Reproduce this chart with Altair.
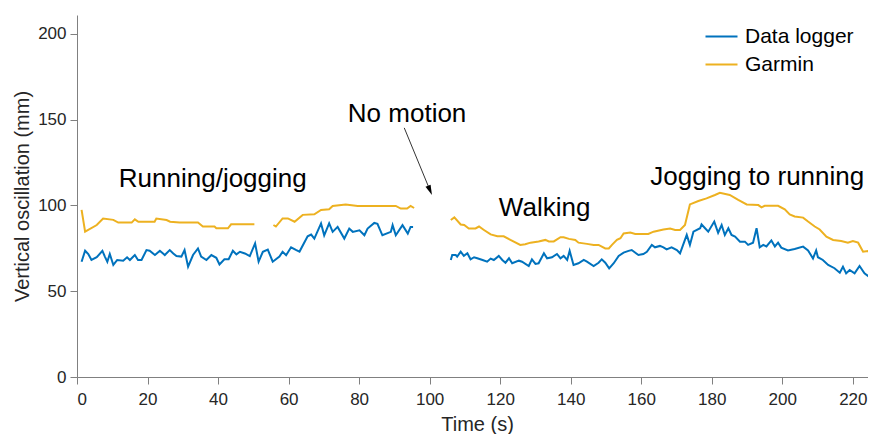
import altair as alt
import pandas as pd

# ---------------- data ----------------
series_names = ["Data logger", "Garmin"]
series_colors = ["#0072BD", "#EDB120"]

# Data logger, part 1 (0-96 s)
logger_t1 = [1.3, 2.3, 3.2, 4.1, 5.6, 7.2, 7.9, 8.6, 9.3, 10.3, 11.4, 13.1, 14.2, 15.0, 16.4,
             17.3, 18.3, 19.7, 20.6, 22.1, 23.5, 24.9, 26.3, 27.3, 28.2, 29.6, 30.5, 31.5, 32.9,
             34.3, 35.2, 36.7, 38.1, 39.5, 40.4, 41.8, 43.0, 44.2, 45.2, 46.2, 47.6, 49.0, 50.5,
             51.5, 52.7, 54.1, 55.5, 57.4, 58.3, 59.3, 60.7, 62.2, 63.1, 65.4, 66.4, 67.3, 69.2,
             70.1, 71.5, 72.5, 73.9, 75.8, 77.2, 78.2, 80.1, 81.5, 82.4, 84.3, 85.2, 86.6, 89.0,
             89.5, 90.4, 92.3, 93.8, 94.6, 95.3]
logger_v1 = [67.2, 73.6, 71.7, 68.2, 69.8, 73.5, 70.2, 67.2, 71.7, 65.3, 68.2, 67.8, 69.8, 68.2, 71.1,
             68.2, 68.2, 74.0, 73.6, 71.1, 73.6, 71.1, 74.0, 72.0, 70.5, 70.2, 74.0, 64.3, 71.1,
             74.9, 70.2, 68.2, 71.1, 69.5, 65.6, 68.6, 68.6, 73.6, 71.5, 73.0, 72.0, 70.5, 77.9,
             67.2, 73.0, 74.3, 67.2, 70.2, 73.0, 71.0, 75.6, 74.0, 73.1, 82.0, 83.0, 80.7, 89.5,
             82.6, 89.5, 84.6, 87.5, 80.7, 86.5, 84.6, 85.5, 82.6, 86.5, 89.8, 89.3, 82.6, 84.6,
             88.5, 82.6, 88.5, 83.6, 87.5, 87.5]

# Data logger, part 2 (106-226 s)
logger_t2 = [106.0, 106.4, 107.4, 107.8, 108.8, 109.7, 110.7, 111.6, 112.6, 113.5, 115.0, 116.3,
             117.3, 118.2, 119.6, 120.6, 121.5, 122.5, 123.4, 125.3, 126.2, 128.1, 129.0, 130.0,
             130.9, 132.4, 133.3, 134.7, 136.1, 137.1, 138.0, 139.0, 139.7, 140.8, 142.2, 143.7,
             144.6, 146.5, 147.9, 148.8, 149.8, 150.9, 152.2, 153.6, 155.0, 156.4, 157.3, 159.2,
             160.6, 161.6, 163.0, 163.9, 165.3, 166.3, 167.2, 168.6, 170.1, 171.0, 172.9, 173.8,
             174.8, 176.7, 177.1, 178.1, 179.0, 180.7, 181.8, 182.8, 183.7, 184.7, 185.6, 186.6,
             188.0, 189.4, 190.3, 191.7, 192.7, 193.6, 194.6, 195.5, 196.9, 197.9, 198.8, 199.7,
             201.6, 203.5, 205.9, 207.3, 208.7, 209.6, 210.1, 211.5, 213.0, 214.8, 216.3, 217.2,
             218.1, 219.1, 220.5, 221.9, 223.3, 224.3, 225.0, 226.0]
logger_v2 = [68.2, 71.1, 71.1, 70.2, 73.0, 70.6, 72.1, 68.6, 69.8, 69.2, 68.2, 67.2,
             69.0, 68.2, 70.6, 68.2, 66.6, 69.2, 66.3, 67.8, 67.2, 64.7, 68.6, 65.9,
             66.3, 72.1, 69.2, 69.8, 71.7, 69.2, 70.6, 68.2, 73.5, 65.3, 66.3, 68.2,
             67.2, 64.7, 66.6, 68.6, 66.6, 63.3, 66.3, 70.6, 72.5, 73.5, 74.0, 71.1,
             71.7, 73.0, 77.0, 75.6, 76.4, 75.6, 74.4, 75.6, 74.0, 72.1, 82.8, 77.0,
             84.7, 86.7, 89.0, 86.7, 84.7, 90.6, 84.1, 88.6, 82.8, 86.7, 82.8, 81.8,
             78.9, 78.9, 77.0, 78.3, 86.7, 75.6, 77.0, 76.1, 79.6, 76.1, 78.3, 75.4,
             73.8, 74.6, 76.0, 73.8, 69.1, 73.8, 69.8, 68.2, 65.3, 63.4, 60.8, 64.3,
             60.4, 62.4, 60.4, 64.7, 60.4, 58.9, 60.8, 55.6]

# Garmin, part 1 (0-50 s)
garmin_t1 = [1.3, 2.3, 5.6, 7.4, 10.3, 11.7, 15.5, 16.4, 17.4, 22.0, 22.5, 25.4, 26.4, 29.1,
             34.3, 35.7, 39.0, 39.5, 42.8, 43.7, 50.3]
garmin_v1 = [97.4, 84.7, 88.6, 92.4, 91.6, 90.0, 90.0, 91.9, 90.5, 90.5, 92.4, 91.5, 90.5, 90.0,
             90.0, 87.7, 87.7, 86.7, 86.7, 89.0, 89.0]

# Garmin, part 2 (55-96 s)
garmin_t2 = [55.7, 56.4, 58.3, 59.8, 61.7, 64.0, 67.3, 69.2, 71.5, 72.5, 76.2, 79.6, 90.4, 91.8,
             93.6, 94.6, 95.6]
garmin_v2 = [88.6, 87.7, 92.4, 92.4, 90.5, 94.5, 94.8, 97.4, 97.8, 99.7, 100.6, 99.7, 99.7, 98.2,
             98.2, 99.7, 98.5]

# Garmin, part 3 (106-226 s)
garmin_t3 = [106.0, 107.0, 108.8, 109.8, 111.1, 113.0, 114.0, 115.4, 117.3, 119.2, 121.0, 122.9,
             125.7, 127.1, 128.6, 130.9, 132.8, 133.8, 135.2, 137.1, 138.0, 139.5, 141.3, 142.2,
             144.6, 146.5, 147.9, 149.8, 150.8, 151.7, 153.1, 154.1, 155.0, 156.9, 158.3, 162.0,
             163.5, 166.3, 168.2, 169.6, 171.0, 172.4, 173.8, 176.2, 178.5, 180.9, 182.3, 185.1,
             187.5, 189.9, 193.2, 194.1, 195.0, 198.8, 200.7, 202.1, 203.5, 205.9, 207.3, 209.2,
             210.6, 212.5, 214.4, 216.7, 218.6, 220.0, 221.5, 222.9, 224.3, 225.8]
garmin_v3 = [91.5, 93.0, 88.9, 88.6, 86.6, 86.6, 87.7, 85.7, 83.1, 82.0, 82.0, 79.9,
             77.0, 77.4, 78.3, 79.0, 79.9, 79.0, 79.0, 81.5, 81.5, 80.5, 79.9, 78.3,
             77.6, 77.0, 77.0, 74.9, 74.9, 77.0, 79.9, 80.9, 83.7, 84.2, 83.4, 83.4,
             84.7, 86.0, 86.6, 85.7, 85.7, 88.6, 100.6, 102.6, 104.1, 106.1, 107.4, 106.1,
             103.2, 100.6, 100.2, 98.9, 99.8, 99.8, 97.7, 94.8, 93.6, 92.9, 90.6, 87.7,
             86.0, 81.8, 79.9, 79.3, 78.3, 79.3, 78.3, 73.0, 73.5, 70.1]

# annotations
ann_text = ["Running/jogging", "No motion", "Walking", "Jogging to running"]
ann_t = [38.5, 93.6, 132.6, 192.9]
ann_v = [115.5, 153.4, 98.5, 116.5]

# arrow (No motion -> gap)
arrow_t = [92.8]
arrow_v = [145.2]
arrow_t2 = [100.1]
arrow_v2 = [108.8]

x_ticks = [0, 20, 40, 60, 80, 100, 120, 140, 160, 180, 200, 220]
y_ticks = [0, 50, 100, 150, 200]

# ---------------- tables ----------------
rows = []
parts = [
    (logger_t1, logger_v1, series_names[0], "L1"),
    (logger_t2, logger_v2, series_names[0], "L2"),
    (garmin_t1, garmin_v1, series_names[1], "G1"),
    (garmin_t2, garmin_v2, series_names[1], "G2"),
    (garmin_t3, garmin_v3, series_names[1], "G3"),
]
for ts, vs, name, seg in parts:
    for t, v in zip(ts, vs):
        rows.append({"time": t, "value": v, "series": name, "seg": seg})
df = pd.DataFrame(rows)

ann_df = pd.DataFrame({"text": ann_text, "time": ann_t, "value": ann_v})
arrow_df = pd.DataFrame({"t": arrow_t, "v": arrow_v, "t2": arrow_t2, "v2": arrow_v2})

FONT = "Liberation Sans"

# the reference is cropped at the right edge; the page keeps 8px margin
x_scale = alt.Scale(domain=[0, 224.3], nice=False, zero=False)
y_scale = alt.Scale(domain=[0, 211], nice=False)

x_enc = alt.X("time:Q", scale=x_scale,
              axis=alt.Axis(values=x_ticks, title="Time (s)", format="d", labelPadding=7,
                            titleX=400, titleY=47, titleBaseline="middle", titleAlign="center"))
y_enc = alt.Y("value:Q", scale=y_scale,
              axis=alt.Axis(values=y_ticks, title="Vertical oscillation (mm)", format="d",
                            labelPadding=4, titleX=-55, titleY=181, titleAngle=270,
                            titleBaseline="middle", titleAlign="center"))

lines = alt.Chart(df).mark_line(strokeWidth=2, clip=True).encode(
    x=x_enc,
    y=y_enc,
    color=alt.Color(
        "series:N",
        scale=alt.Scale(domain=series_names, range=series_colors),
        legend=alt.Legend(
            title=None, orient="none", legendX=634, legendY=11,
            symbolType="M-2,0H2", symbolSize=256, symbolStrokeWidth=2,
            labelFontSize=21, labelFont=FONT, labelColor="#000000",
            labelOffset=13, rowPadding=6, padding=0,
        ),
    ),
    detail="seg:N",
)

texts = alt.Chart(ann_df).mark_text(
    font=FONT, fontSize=26, color="#000000", align="center", baseline="middle"
).encode(x=alt.X("time:Q", scale=x_scale), y=alt.Y("value:Q", scale=y_scale), text="text:N")

shaft = alt.Chart(arrow_df).mark_rule(color="#000000", strokeWidth=0.8).encode(
    x=alt.X("t:Q", scale=x_scale), y=alt.Y("v:Q", scale=y_scale),
    x2="t2:Q", y2="v2:Q",
)

head = alt.Chart(arrow_df).mark_point(
    shape="M-0.55,-1L0.55,-1L0,1Z", size=100, filled=True, color="#000000",
    opacity=1, angle=337,
).encode(x=alt.X("t2:Q", scale=x_scale), y=alt.Y("v2:Q", scale=y_scale))

chart = alt.layer(lines, shaft, head, texts).properties(
    width=791, height=362,
    padding={"left": 69, "top": 7, "right": 0, "bottom": 57},
    autosize=alt.AutoSizeParams(type="none"),
).configure_view(stroke=None).configure_axis(
    grid=False,
    domainColor="#808080", tickColor="#808080", domainWidth=1, tickWidth=1,
    tickSize=7,
    labelFont=FONT, labelFontSize=17, labelColor="#262626",
    titleFont=FONT, titleFontSize=20, titleColor="#262626", titleFontWeight="normal",
).configure_legend(
    labelFont=FONT,
)

chart.save("out.html", embed_options={"renderer": "svg", "actions": False})
